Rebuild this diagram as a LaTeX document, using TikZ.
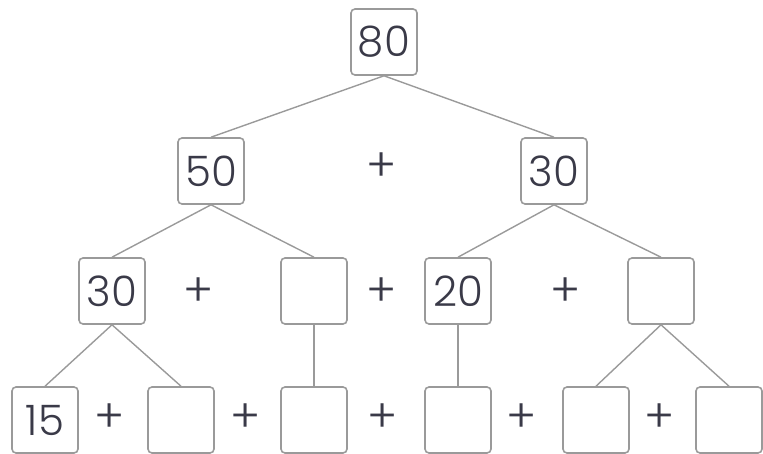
\documentclass[tikz,border=0pt]{standalone}
\usepackage{fontspec}
\setmainfont{Poppins}[UprightFont=* Light]
\usepackage{tikz}
\usetikzlibrary{positioning, calc}
\usepackage{xcolor}
\definecolor{boxgray}{HTML}{9A9A9A}
\definecolor{numink}{HTML}{3A3A48}

\begin{document}
\begin{tikzpicture}[
    x=1pt, y=-1pt,
    numbox/.style={draw=boxgray, line width=1.6pt, rounded corners=4pt, fill=white,
        minimum width=66pt, minimum height=66pt, inner sep=0pt,
        text=numink, font=\fontsize{42}{46}\selectfont},
    plus/.style={text=numink, font=\fontsize{46}{50}\selectfont, inner sep=0pt, yshift=-5pt},
    branch/.style={draw=boxgray, line width=1.4pt}
]
    \useasboundingbox (0,0) rectangle (763,454);
    % Top row:
    \node[numbox] (top) at (384,42) {80};
    % Second row:
    \node[numbox] (l) at (211,171) {50};
    \node[numbox] (r) at (554,171) {30};
    \node[plus] (p0) at (382,162) {+};
    % Third row:
    \node[numbox] (ll) at (112,291) {30};
    \node[numbox] (lr) at (314,291) {};
    \node[numbox] (rl) at (458,291) {20};
    \node[numbox] (rr) at (661,291) {};
    \node[plus] (p1) at (199,287) {+};
    \node[plus] (p2) at (382,287) {+};
    \node[plus] (p3) at (566,287) {+};
    % Bottom row:
    \node[numbox] (b1) at (45,420) {15};
    \node[numbox] (b2) at (181,420) {};
    \node[numbox] (b3) at (314,420) {};
    \node[numbox] (b4) at (458,420) {};
    \node[numbox] (b5) at (596,420) {};
    \node[numbox] (b6) at (729,420) {};
    \node[plus] (p4) at (110,413) {+};
    \node[plus] (p5) at (246,413) {+};
    \node[plus] (p6) at (383,413) {+};
    \node[plus] (p7) at (522,413) {+};
    \node[plus] (p8) at (660,413) {+};

    \path[branch]
        (top.south) edge (l.north)
        (top.south) edge (r.north)
        (l.south) edge (ll.north)
        (l.south) edge (lr.north)
        (r.south) edge (rl.north)
        (r.south) edge (rr.north)
        (ll.south) edge (b1.north)
        (ll.south) edge (b2.north)
        (lr.south) edge (b3.north)
        (rl.south) edge (b4.north)
        (rr.south) edge (b5.north)
        (rr.south) edge (b6.north);
\end{tikzpicture}
\end{document}
